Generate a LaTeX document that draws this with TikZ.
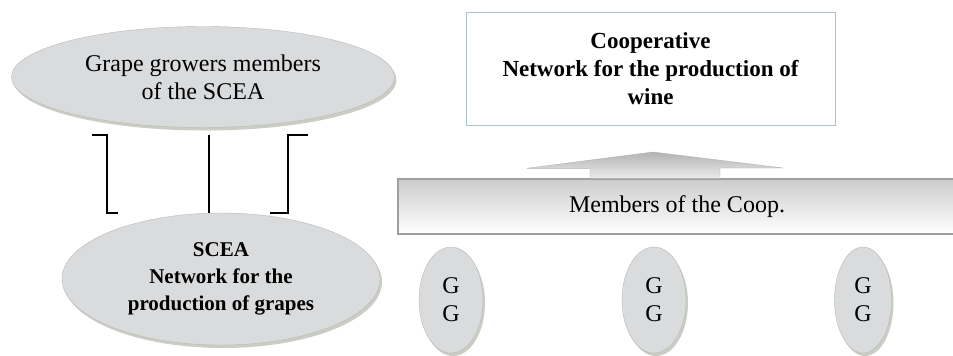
\documentclass[tikz,border=0pt]{standalone}
\usepackage{fontspec}
\setmainfont{Liberation Serif}
\usepackage{xcolor}
\usepackage{tikz}
\usetikzlibrary{shapes.geometric,shadows,positioning,calc}
\definecolor{ovalgray}{RGB}{218,219,221}
\definecolor{ovalshadow}{RGB}{150,155,135}
\definecolor{coopframe}{RGB}{168,196,204}
\newcommand{\bigtxt}{\fontsize{24}{28}\selectfont}
\newcommand{\boldtxt}{\fontsize{21}{27}\selectfont\bfseries}

\begin{document}
\begin{tikzpicture}[x=1pt,y=-1pt,
    oval/.style={ellipse, draw=gray!55, fill=ovalgray, inner sep=0pt,
        drop shadow={shadow xshift=2pt, shadow yshift=-3pt, fill=ovalshadow},
        align=center, font=\bigtxt},
    coopbox/.style={rectangle, draw=coopframe, line width=1pt, fill=white,
        minimum width=369pt, minimum height=113pt, align=center,
        font=\fontsize{23}{28}\selectfont\bfseries},
    memberbox/.style={rectangle, draw=gray!75, line width=1.4pt,
        top color=gray!40, bottom color=white, minimum width=558pt, minimum height=55pt,
        font=\bigtxt},
    bracket/.style={line width=1.2pt}]
    \useasboundingbox (0,0) rectangle (953,356);
    \clip (0,0) rectangle (953,356);
    % Left side: grape growers and SCEA
    \node[oval, minimum width=383pt, minimum height=101pt] (growers) at (203,77)
        {Grape growers members\\of the SCEA};
    \node[oval, minimum width=318pt, minimum height=132pt, font=\boldtxt] (scea) at (221,279)
        {SCEA\\Network for the\\production of grapes};
    % Brackets between the ovals
    \coordinate (lt) at (92,135);   \coordinate (lb) at (118,213);
    \coordinate (mt) at (209,135);  \coordinate (mb) at (209,213);
    \coordinate (rt) at (308,135);  \coordinate (rb) at (270,213);
    \draw[bracket] (lt) -- ++(15,0) |- (lb);
    \draw[bracket] (mt) -- (mb);
    \draw[bracket] (rt) -- ++(-20,0) |- (rb);
    % Right side: cooperative
    \node[coopbox] (coop) at (650.5,68.5) {Cooperative\\Network for the production of\\wine};
    \node[memberbox] (members) at (677,206.5) {Members of the Coop.};
    % Block arrow up
    \path[top color=gray!60, bottom color=gray!15, draw=gray!60]
        ($(members.north)+(-87,0)$) -- ++(0,-10) -- ++(-63,0) -- (653,152)
        -- (783,168) -- ++(-63,0) -- ($(members.north)+(43,0)$) -- cycle;
    % Grape growers of the coop
    \node[oval, minimum width=64pt, minimum height=106pt] (g1) at (451,300) {G\\G};
    \node[oval, minimum width=64pt, minimum height=106pt] (g2) at (654,300) {G\\G};
    \node[oval, minimum width=57pt, minimum height=106pt] (g3) at (863,300) {G\\G};
\end{tikzpicture}
\end{document}
